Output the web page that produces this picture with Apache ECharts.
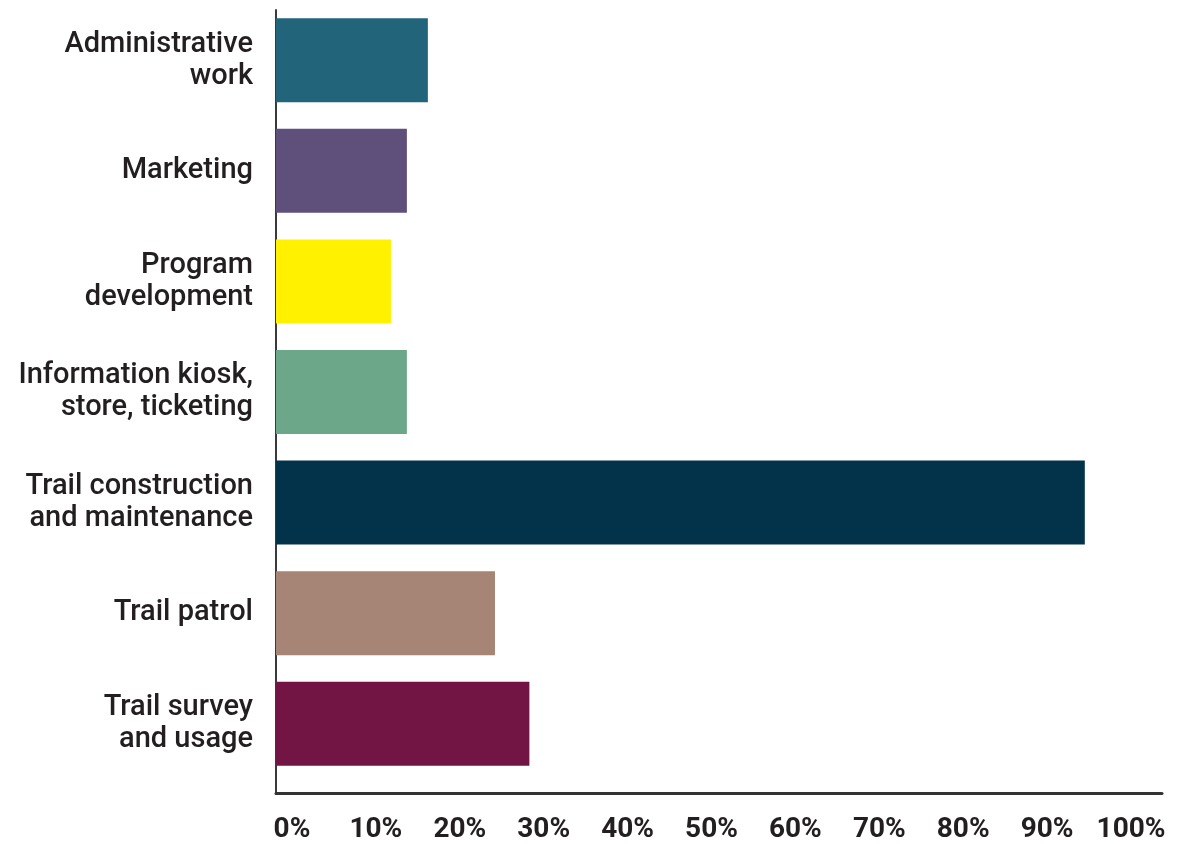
<!DOCTYPE html>
<html>
<head>
<meta charset="utf-8">
<script src="https://cdn.jsdelivr.net/npm/echarts@6/dist/echarts.min.js"></script>
<style>html,body{margin:0;padding:0;background:#fff}#c{width:1181px;height:844px}</style>
</head>
<body>
<div id="c"></div>
<script>
const categories = [
  'Administrative\nwork',
  'Marketing',
  'Program\ndevelopment',
  'Information kiosk,\nstore, ticketing',
  'Trail construction\nand maintenance',
  'Trail patrol',
  'Trail survey\nand usage'
];
const values = [18.1, 15.6, 13.7, 15.6, 96.4, 26.1, 30.2];
const barColors = ['#22647a', '#5f4f7b', '#fff100', '#6ca78a', '#03334b', '#a68576', '#721444'];
const tickValues = [0, 10, 20, 30, 40, 50, 60, 70, 80, 90, 100];
const axisMax = 105.6;

const chart = echarts.init(document.getElementById('c'), null, {renderer: 'canvas'});
chart.setOption({
  backgroundColor: '#ffffff',
  animation: false,
  grid: [
    {left: 276, right: 19, top: 5, bottom: 65, containLabel: false},
    {left: 276, right: 19, top: 10, bottom: 47, containLabel: false}
  ],
  xAxis: [
    {gridIndex: 0, type: 'value', min: 0, max: axisMax, show: false},
    {
      gridIndex: 1, type: 'value', min: 0, max: axisMax, interval: 10,
      axisLine: {show: true, onZero: false, lineStyle: {color: '#333333', width: 3}},
      axisTick: {show: false},
      splitLine: {show: false},
      axisLabel: {
        margin: 23,
        fontFamily: 'Roboto',
        fontWeight: 'bold',
        fontSize: 28,
        color: '#231f20',
        padding: [0, 0, 0, 32],
        formatter: function (v) { return tickValues.indexOf(v) >= 0 ? v + '%' : ''; }
      }
    }
  ],
  yAxis: [
    {
      gridIndex: 0, type: 'category', data: categories, inverse: true,
      axisLine: {show: false}, axisTick: {show: false}, splitLine: {show: false},
      axisLabel: {
        margin: 23,
        fontFamily: 'Roboto',
        fontWeight: 500,
        fontSize: 29,
        lineHeight: 32,
        color: '#231f20',
        align: 'right'
      }
    },
    {
      gridIndex: 1, type: 'value', min: 0, max: 1,
      axisLine: {show: true, onZero: false, lineStyle: {color: '#3a3a3a', width: 2}},
      axisTick: {show: false}, axisLabel: {show: false}, splitLine: {show: false}
    }
  ],
  series: [{
    type: 'bar',
    xAxisIndex: 0,
    yAxisIndex: 0,
    barWidth: 84,
    data: values.map((v, i) => ({value: v, itemStyle: {color: barColors[i]}}))
  }]
});
</script>
</body>
</html>
